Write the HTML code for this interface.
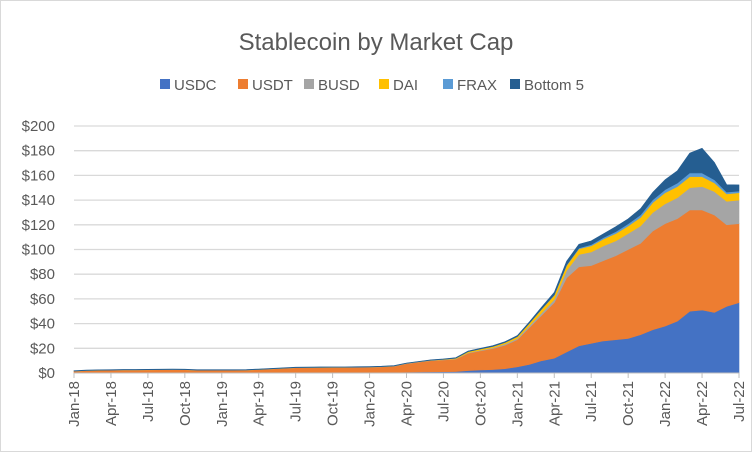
<!DOCTYPE html>
<html><head><meta charset="utf-8"><style>
body{margin:0;background:#fff;}
svg{display:block;font-family:"Liberation Sans",sans-serif;}
</style></head><body>
<svg width="752" height="452">
<rect x="0.5" y="0.5" width="751" height="451" fill="#fff" stroke="#d9d9d9"/>
<text x="376" y="50" text-anchor="middle" font-size="24" fill="#595959">Stablecoin by Market Cap</text>
<g id="legend"></g>
<g id="grid"></g>
<g id="areas"></g>
<g id="axes"></g>
</svg>
<script>
const seriesNames=["USDC","USDT","BUSD","DAI","FRAX","Bottom 5"];
const colors=["#4472c4","#ed7d31","#a5a5a5","#ffc000","#5b9bd5","#255e91"];
const usdc=[0,0,0,0,0,0,0,0,0,0.2,0.3,0.3, 0.3,0.3,0.3,0.3,0.3,0.4,0.4,0.4,0.4,0.4,0.4,0.4, 0.4,0.4,0.5,0.7,0.8,1,1.1,1.2,2,2.5,2.8,3.5, 5,7,10,12,17,22,24,26,27,28,31,35, 38,42,50,51,49,54,57];
const usdt=[1.5,2,2.2,2.3,2.5,2.5,2.6,2.7,2.8,2.5,2,2, 2,2,2.1,2.5,3,3.4,3.9,4,4.1,4.1,4.1,4.2, 4.3,4.6,5,6.8,8,9,9.5,10,14,15.5,17,19, 22,30,37,45,60,64,63,65,68,72,74,80, 83,83,82,81,79,66,64];
const busd=[0,0,0,0,0,0,0,0,0,0,0,0, 0,0,0,0,0,0,0,0,0.02,0.05,0.05,0.1, 0.1,0.1,0.15,0.2,0.2,0.2,0.2,0.3,0.4,0.5,0.7,1, 1,1.5,2,2.5,6,10,11,12,12,13,14,15, 16,17,18,19,19,19,19];
const dai=[0.05,0.05,0.05,0.05,0.05,0.05,0.05,0.05,0.05,0.05,0.05,0.05, 0.1,0.1,0.1,0.1,0.1,0.1,0.1,0.1,0.1,0.1,0.1,0.1, 0.1,0.1,0.1,0.1,0.1,0.2,0.3,0.5,0.9,1,1,1.2, 1.5,2,3,3.5,4,4.5,5,5.5,6,6,7,8, 9,9,9,8,7,6,6];
const frax=[0,0,0,0,0,0,0,0,0,0,0,0, 0,0,0,0,0,0,0,0,0,0,0,0, 0,0,0,0,0,0,0,0,0,0,0,0, 0,0.1,0.2,0.3,0.5,0.7,1,1.2,1.5,1.8,2,2.3, 2.5,2.8,3,3,2.5,1.5,1.3];
const bottom5=[0.3,0.3,0.3,0.3,0.3,0.3,0.3,0.3,0.3,0.3,0.3,0.3, 0.3,0.3,0.3,0.3,0.3,0.3,0.3,0.3,0.3,0.3,0.3,0.3, 0.3,0.3,0.3,0.3,0.3,0.3,0.3,0.4,0.5,0.5,0.6,0.7, 0.8,1,1.5,2,3,3,3,3,4,4,5,6, 8,10,16,20,14,6,5];
const yTicks=[0,20,40,60,80,100,120,140,160,180,200];
const xTickLabels=["Jan-18","Apr-18","Jul-18","Oct-18","Jan-19","Apr-19","Jul-19","Oct-19","Jan-20","Apr-20","Jul-20","Oct-20","Jan-21","Apr-21","Jul-21","Oct-21","Jan-22","Apr-22","Jul-22"];

const NS="http://www.w3.org/2000/svg";
const X0=74,X1=739,Y0=373,Y1=126;
const nMonths=usdc.length;
const xs=i=>X0+(X1-X0)*i/(nMonths-1);
const ys=v=>Y0-(Y0-Y1)*v/200;
function mk(tag,attrs,parent){const e=document.createElementNS(NS,tag);for(const k in attrs)e.setAttribute(k,attrs[k]);parent.appendChild(e);return e;}
const grid=document.getElementById('grid'),areas=document.getElementById('areas'),axes=document.getElementById('axes'),legend=document.getElementById('legend');

yTicks.forEach(t=>{
  if(t>0){const l=mk('line',{x1:X0,x2:X1,y1:ys(t),y2:ys(t),stroke:'#d9d9d9','stroke-width':1.3},grid);
  
  }
  const tx=mk('text',{x:55,y:ys(t)+5,'text-anchor':'end','font-size':15,fill:'#595959'},axes);
  tx.textContent='$'+t;
  
  
});

const series=[usdc,usdt,busd,dai,frax,bottom5];
let base=new Array(nMonths).fill(0);
series.forEach((s,k)=>{
  const top=base.map((b,i)=>b+s[i]);
  let d='M'+xs(0)+','+ys(top[0]);
  for(let i=1;i<nMonths;i++)d+='L'+xs(i)+','+ys(top[i]);
  for(let i=nMonths-1;i>=0;i--)d+='L'+xs(i)+','+ys(base[i]);
  d+='Z';
  const p=mk('path',{d:d,fill:colors[k],stroke:colors[k],'stroke-width':0.6},areas);
  
  
  base=top;
});

const ax=mk('line',{x1:X0,x2:X1,y1:Y0,y2:Y0,stroke:'#bfbfbf','stroke-width':1},axes);


xTickLabels.forEach((lab,j)=>{
  const x=xs(j*3);
  const tk=mk('line',{x1:x,x2:x,y1:Y0,y2:Y0+5,stroke:'#bfbfbf'},axes);
  
  
  const t=mk('text',{x:0,y:0,'text-anchor':'end','font-size':15,fill:'#595959',transform:'translate('+(x+5)+','+(Y0+8)+') rotate(-90)'},axes);
  t.textContent=lab;
  
  
});

const legX=[160,238,304,379,443,510];
seriesNames.forEach((n,k)=>{
  const r=mk('rect',{x:legX[k],y:79,width:10,height:10,fill:colors[k]},legend);
  
  
  const t=mk('text',{x:legX[k]+14,y:90,'font-size':15,fill:'#595959'},legend);
  t.textContent=n;
  
  
});
</script>
</body></html>
